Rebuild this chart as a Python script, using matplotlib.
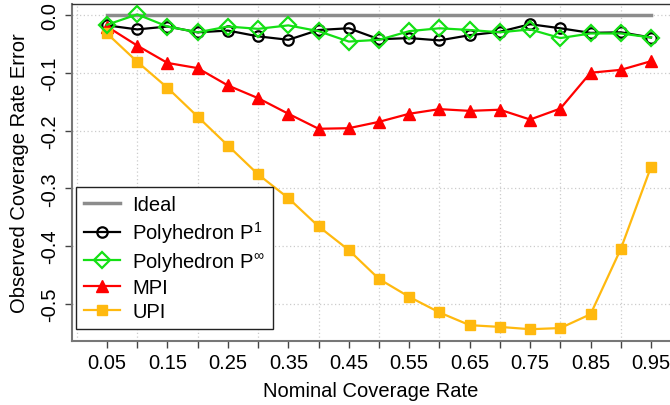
import numpy as np
import matplotlib
matplotlib.use('Agg')
import matplotlib.pyplot as plt

plt.rcParams['font.family'] = ['Liberation Sans', 'DejaVu Sans']
plt.rcParams['mathtext.fontset'] = 'custom'
plt.rcParams['mathtext.rm'] = 'Liberation Sans'
plt.rcParams['mathtext.it'] = 'Liberation Sans'

# nominal coverage levels and observed errors per method
nominal = [0.05, 0.10, 0.15, 0.20, 0.25, 0.30, 0.35, 0.40, 0.45, 0.50,
           0.55, 0.60, 0.65, 0.70, 0.75, 0.80, 0.85, 0.90, 0.95]
ideal = [0.0] * 19
poly_p1 = [-0.018, -0.025, -0.020, -0.030, -0.027, -0.037, -0.043, -0.026, -0.023, -0.042,
           -0.040, -0.044, -0.035, -0.029, -0.016, -0.023, -0.031, -0.030, -0.039]
poly_pinf = [-0.017, 0.001, -0.020, -0.030, -0.020, -0.024, -0.018, -0.028, -0.046, -0.043,
             -0.028, -0.023, -0.026, -0.030, -0.025, -0.040, -0.032, -0.032, -0.039]
mpi = [-0.020, -0.053, -0.083, -0.092, -0.122, -0.144, -0.171, -0.197, -0.196, -0.185,
       -0.171, -0.163, -0.166, -0.164, -0.181, -0.162, -0.100, -0.095, -0.080]
upi = [-0.032, -0.081, -0.126, -0.176, -0.226, -0.276, -0.317, -0.366, -0.407, -0.457,
       -0.488, -0.515, -0.537, -0.540, -0.544, -0.542, -0.518, -0.405, -0.263]

xtick_pos = nominal
xtick_lab = ['%.2f' % v if i % 2 == 0 else '' for i, v in enumerate(nominal)]
ytick_pos = [0.0, -0.1, -0.2, -0.3, -0.4, -0.5]
ytick_lab = ['0.0', '-0.1', '-0.2', '-0.3', '-0.4', '-0.5']

fig = plt.figure(figsize=(6.7, 4.06), dpi=100)
ax = fig.add_axes([72/670, 64/406, 598/670, 337/406])

# dotted grid
for gx in np.arange(0, 1.01, 0.1):
    ax.axvline(gx, color='#cccccc', lw=0.9, ls=(0, (1, 2)), zorder=0)
for gy in ytick_pos:
    ax.axhline(gy, color='#cccccc', lw=0.9, ls=(0, (1, 2)), zorder=0)

ax.plot(nominal, ideal, color='#8c8c8c', lw=2.5, label='Ideal', zorder=2)
ax.plot(nominal, poly_p1, color='black', lw=1.6, marker='o', ms=7.5,
        mfc='none', mec='black', mew=1.6, label=r'Polyhedron $\mathregular{P^1}$', zorder=3)
ax.plot(nominal, poly_pinf, color='#14e014', lw=1.6, marker='D', ms=8.5,
        mfc='none', mec='#14e014', mew=1.6, label=r'Polyhedron $\mathregular{P^{\infty}}$', zorder=4)
ax.plot(nominal, mpi, color='#ff0000', lw=1.6, marker='^', ms=9,
        mfc='#ff0000', mec='#ff0000', label='MPI', zorder=3)
ax.plot(nominal, upi, color='#ffb90f', lw=1.6, marker='s', ms=7.5,
        mfc='#ffb90f', mec='#ffb90f', label='UPI', zorder=3)

ax.set_xlim(-0.0079, 0.9814)
ax.set_ylim(-0.5644, 0.019)

ax.set_xticks(xtick_pos)
ax.set_xticklabels(xtick_lab, fontsize=14.5)
ax.set_yticks(ytick_pos)
ax.set_yticklabels(ytick_lab, fontsize=14.5, rotation=90, va='center')
ax.tick_params(axis='both', length=5, width=1, color='#444444', pad=4)

ax.spines['right'].set_visible(False)
ax.spines['top'].set_color('#333333')
ax.spines['top'].set_linewidth(1)
for s in ('left', 'bottom'):
    ax.spines[s].set_color('#777777')
    ax.spines[s].set_linewidth(1.5)

ax.set_xlabel('Nominal Coverage Rate', fontsize=14.5, labelpad=6)
ax.set_ylabel('Observed Coverage Rate Error', fontsize=14.5, labelpad=8)

leg = ax.legend(loc='lower left', bbox_to_anchor=(0.0067, 0.0356), borderaxespad=0,
                fontsize=14.5, frameon=True, fancybox=False, edgecolor='#222222',
                handlelength=1.8, handletextpad=0.6, labelspacing=0.25,
                borderpad=0.4, framealpha=1)
leg.get_frame().set_linewidth(1)

fig.savefig('out.png', dpi=100)
